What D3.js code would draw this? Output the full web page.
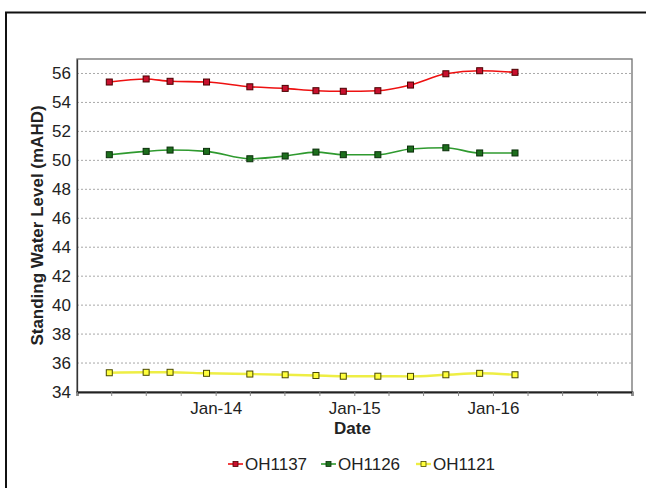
<!DOCTYPE html>
<html>
<head>
<meta charset="utf-8">
<script src="https://cdn.jsdelivr.net/npm/d3@7"></script>
<style>
  html, body { margin: 0; padding: 0; background: #fff; }
  svg { display: block; font-family: "Liberation Sans", Arial, sans-serif; }
</style>
</head>
<body>
<svg id="chart" width="646" height="488"></svg>
<script>
// Monitoring dates (sampling rounds)
const dates = ["2013-03-27", "2013-07-02", "2013-09-03", "2013-12-08", "2014-04-01",
  "2014-07-03", "2014-09-22", "2014-12-03", "2015-03-04", "2015-05-29",
  "2015-08-30", "2015-11-27", "2016-02-28"];

// Standing water levels (mAHD) per bore
const oh1137 = [55.41, 55.62, 55.46, 55.41, 55.08, 54.97, 54.81, 54.77, 54.81, 55.20, 55.98, 56.19, 56.08];
const oh1126 = [50.39, 50.62, 50.71, 50.62, 50.11, 50.30, 50.57, 50.39, 50.39, 50.78, 50.87, 50.51, 50.51];
const oh1121 = [35.33, 35.36, 35.36, 35.29, 35.24, 35.19, 35.14, 35.09, 35.09, 35.08, 35.19, 35.29, 35.19];

const seriesNames = ["OH1137", "OH1126", "OH1121"];
const yTicks = [34, 36, 38, 40, 42, 44, 46, 48, 50, 52, 54, 56];

const series = [
  { name: seriesNames[0], values: oh1137, line: "#ee1111", lineW: 1.6, fill: "#c8102e", stroke: "#4a0000" },
  { name: seriesNames[1], values: oh1126, line: "#2f9a2f", lineW: 1.6, fill: "#1c6e1c", stroke: "#0a2e0a" },
  { name: seriesNames[2], values: oh1121, line: "#eeee44", lineW: 2.4, fill: "#ffff3c", stroke: "#4a4a00" }
];

const parse = d3.timeParse("%Y-%m-%d");
const dateObjs = dates.map(parse);

const svg = d3.select("#chart");

// outer frame
svg.append("rect")
  .attr("x", 6).attr("y", 12.5)
  .attr("width", 660).attr("height", 500)
  .attr("fill", "none").attr("stroke", "#111").attr("stroke-width", 2);

const plot = { left: 77, top: 59, right: 632, bottom: 392 };

const x = d3.scaleTime()
  .domain([new Date(2013, 0, 1), new Date(2017, 0, 1)])
  .range([plot.left, plot.right]);
const y = d3.scaleLinear()
  .domain([34, 57])
  .range([plot.bottom, plot.top]);

// horizontal dotted gridlines
svg.append("g").selectAll("line")
  .data(yTicks.filter(t => t > 34))
  .join("line")
  .attr("x1", plot.left).attr("x2", plot.right)
  .attr("y1", d => y(d)).attr("y2", d => y(d))
  .attr("stroke", "#a8a8a8").attr("stroke-width", 1)
  .attr("stroke-dasharray", "2,2");

// plot frame
svg.append("rect")
  .attr("x", plot.left).attr("y", plot.top)
  .attr("width", plot.right - plot.left).attr("height", plot.bottom - plot.top)
  .attr("fill", "none").attr("stroke", "#707070").attr("stroke-width", 1.3);

// y axis labels
const yAxis = d3.axisLeft(y).tickValues(yTicks).tickSize(0).tickPadding(6).tickFormat(d3.format("d"));
const gy = svg.append("g").attr("transform", `translate(${plot.left},0)`).call(yAxis);
gy.select(".domain").attr("stroke", "#333").attr("stroke-width", 1.3);
gy.selectAll("text").attr("font-size", 17).attr("fill", "#222")
  .attr("font-family", "Liberation Sans, Arial, sans-serif");

// x axis: quarterly ticks, labels in January
const xAxis = d3.axisBottom(x)
  .ticks(d3.timeMonth.every(3))
  .tickSize(4)
  .tickPadding(6)
  .tickFormat(d => (d.getMonth() === 0 && d.getFullYear() > 2013 && d.getFullYear() < 2017) ? d3.timeFormat("%b-%y")(d) : "");
const gx = svg.append("g").attr("transform", `translate(0,${plot.bottom})`).call(xAxis);
gx.select(".domain").attr("stroke", "#222").attr("stroke-width", 2);
gx.selectAll(".tick line").attr("stroke", "#888");
gx.selectAll("text").attr("font-size", 17).attr("fill", "#222")
  .attr("font-family", "Liberation Sans, Arial, sans-serif");

// axis titles
svg.append("text")
  .attr("x", (plot.left + plot.right) / 2 - 2).attr("y", 434)
  .attr("text-anchor", "middle").attr("font-size", 17).attr("font-weight", "bold").attr("fill", "#222")
  .text("Date");
svg.append("text")
  .attr("transform", `translate(43,${(plot.top + plot.bottom) / 2}) rotate(-90)`)
  .attr("text-anchor", "middle").attr("font-size", 17).attr("font-weight", "bold").attr("fill", "#222")
  .text("Standing Water Level (mAHD)");

// series lines and markers
const line = d3.line()
  .x((d, i) => x(dateObjs[i]))
  .y(d => y(d))
  .curve(d3.curveMonotoneX);

const ms = 6;
series.forEach(s => {
  svg.append("path")
    .datum(s.values)
    .attr("d", line)
    .attr("fill", "none")
    .attr("stroke", s.line)
    .attr("stroke-width", s.lineW);
  svg.append("g").selectAll("rect")
    .data(s.values)
    .join("rect")
    .attr("x", (d, i) => x(dateObjs[i]) - ms / 2)
    .attr("y", d => y(d) - ms / 2)
    .attr("width", ms).attr("height", ms)
    .attr("fill", s.fill)
    .attr("stroke", s.stroke).attr("stroke-width", 1);
});

// legend
const legendX = [228, 321, 416];
const lg = svg.append("g").attr("transform", "translate(0,464)");
series.forEach((s, i) => {
  const g = lg.append("g").attr("transform", `translate(${legendX[i]},0)`);
  g.append("line").attr("x1", 0).attr("x2", 15).attr("y1", 0).attr("y2", 0)
    .attr("stroke", s.line).attr("stroke-width", s.lineW);
  g.append("rect").attr("x", 5).attr("y", -2.5).attr("width", 5).attr("height", 5)
    .attr("fill", s.fill).attr("stroke", s.stroke).attr("stroke-width", 0.8);
  g.append("text").attr("x", 17).attr("y", 6)
    .attr("font-size", 17).attr("fill", "#222").text(s.name);
});
</script>
</body>
</html>
